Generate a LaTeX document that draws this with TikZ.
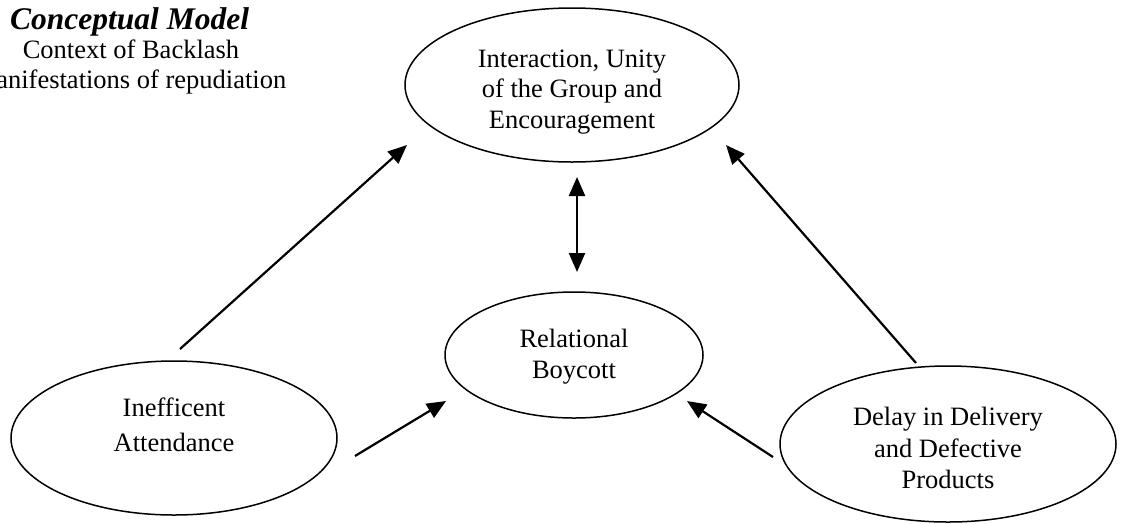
\documentclass[tikz,border=0pt]{standalone}
\usepackage{fontspec}
\setmainfont{Liberation Serif}
\usetikzlibrary{shapes.geometric,arrows.meta}
\begin{document}
\begin{tikzpicture}[x=1pt,y=-1pt,
  oval/.style={draw,ellipse,line width=1.5pt,inner sep=0pt},
  arr/.style={line width=2.2pt,-{Triangle[length=19pt,width=16pt]}},
  darr/.style={line width=2.2pt,{Triangle[length=19pt,width=16pt]}-{Triangle[length=19pt,width=16pt]}},
  txt/.style={font=\fontsize{26.5}{30.7}\selectfont,inner sep=0pt,align=center}]
\useasboundingbox (0,0) rectangle (1123,523);
\fill[white] (0,0) rectangle (1123,523);
\node[anchor=base west,inner sep=0pt,font=\fontsize{31.5}{35}\selectfont\bfseries\itshape] (title) at (10,29) {Conceptual Model};
\node[txt,anchor=base] (ctx1) at (131,58) {Context of Backlash};
\node[txt,anchor=base] (ctx2) at (131,88) {manifestations of repudiation};
\node[oval,minimum width=334pt,minimum height=154pt] (top) at (572,85) {};
\node[oval,minimum width=258pt,minimum height=126pt] (rel) at (574,355) {};
\node[oval,minimum width=326pt,minimum height=154pt] (ineff) at (174,438) {};
\node[oval,minimum width=336pt,minimum height=156pt] (delay) at (948,444) {};
\node[txt] (topt) at ([yshift=-7]top.center) {Interaction, Unity\\of the Group and\\Encouragement};
\node[txt] (relt) at ([yshift=-2]rel.center) {Relational\\Boycott};
\node[txt] (innt) at ([yshift=13]ineff.center) {Inefficent\\[4pt]Attendance};
\node[txt] (delt) at ([yshift=-4]delay.center) {Delay in Delivery\\[1pt]and Defective\\[1pt]Products};
\draw[arr] ([shift={(6,-89)}]ineff.center) -- ([shift={(-165,60)}]top.center);
\draw[arr] ([shift={(181,18)}]ineff.center) -- ([shift={(-128,46)}]rel.center);
\draw[arr] ([shift={(-175,13)}]delay.center) -- ([shift={(113,46)}]rel.center);
\draw[arr] ([shift={(-32,-81)}]delay.center) -- ([shift={(154,60)}]top.center);
\draw[darr] ([shift={(5,92)}]top.center) -- ([shift={(3,-83)}]rel.center);
\end{tikzpicture}
\end{document}
